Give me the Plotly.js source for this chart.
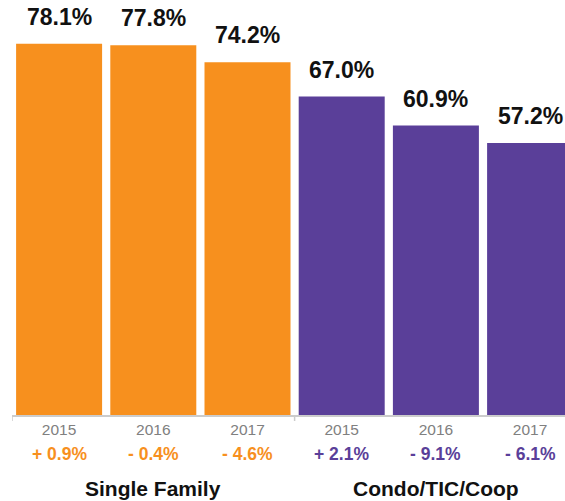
<!DOCTYPE html>
<html>
<head>
<meta charset="utf-8">
<script src="https://cdn.plot.ly/plotly-3.0.1.min.js"></script>
<style>
  html, body { margin: 0; padding: 0; background: #fff; overflow: hidden; }
  #chart { width: 565px; height: 501px; }
</style>
</head>
<body>
<div id="chart"></div>
<script>
// ---- data ----
const groups = ["Single Family", "Condo/TIC/Coop"];
const groupColors = ["#F7901E", "#5A3F99"];
const years = ["2015", "2016", "2017", "2015", "2016", "2017"];
const values = [78.1, 77.8, 74.2, 67.0, 60.9, 57.2];
const changes = ["+ 0.9%", "- 0.4%", "- 4.6%", "+ 2.1%", "- 9.1%", "- 6.1%"];
const groupOf = [0, 0, 0, 1, 1, 1];

const FONT = "Liberation Sans, Arial, Helvetica, sans-serif";
const xs = values.map((v, i) => i);
const barColors = groupOf.map(g => groupColors[g]);

const trace = {
  type: "bar",
  x: xs,
  y: values,
  marker: { color: barColors, line: { width: 0 } },
  hoverinfo: "skip",
  showlegend: false
};

const annotations = [];
// value labels above bars
values.forEach((v, i) => {
  annotations.push({
    x: i, y: v, xref: "x", yref: "y",
    text: v.toFixed(1) + "%",
    showarrow: false, yanchor: "bottom", yshift: 12,
    font: { family: FONT, size: 23, color: "#111111", weight: "bold" }
  });
});
// change labels
changes.forEach((c, i) => {
  annotations.push({
    x: i, y: 0, xref: "x", yref: "paper",
    text: c,
    showarrow: false, yanchor: "middle", yshift: -39,
    font: { family: FONT, size: 17.5, color: groupColors[groupOf[i]], weight: "bold" }
  });
});
// group labels
groups.forEach((g, gi) => {
  annotations.push({
    x: gi * 3 + 1, y: 0, xref: "x", yref: "paper",
    text: g,
    showarrow: false, yanchor: "middle", yshift: -73,
    font: { family: FONT, size: 21, color: "#111111", weight: "bold" }
  });
});

// group boundary ticks
const shapes = [-0.5, 2.5, 5.5].map(b => ({
  type: "line", xref: "x", x0: b, x1: b,
  yref: "paper", ysizemode: "pixel", yanchor: 0, y0: 0, y1: -6,
  line: { color: "#cccccc", width: 1.5 }
}));

const layout = {
  width: 565, height: 501,
  margin: { l: 12, r: 0, t: 0, b: 86 },
  paper_bgcolor: "#ffffff",
  plot_bgcolor: "#ffffff",
  bargap: 0.087,
  xaxis: {
    range: [-0.5, -0.5 + 553 / 94.2],
    tickvals: xs,
    ticktext: years,
    ticks: "",
    showline: true, linecolor: "#cccccc", linewidth: 1.5,
    showgrid: false, zeroline: false,
    tickfont: { family: FONT, size: 15.5, color: "#808080" },
    fixedrange: true
  },
  yaxis: {
    range: [0, 87.3],
    visible: false,
    showgrid: false, zeroline: false,
    fixedrange: true
  },
  annotations: annotations,
  shapes: shapes
};

Plotly.newPlot("chart", [trace], layout, { displayModeBar: false, staticPlot: true });
</script>
</body>
</html>
